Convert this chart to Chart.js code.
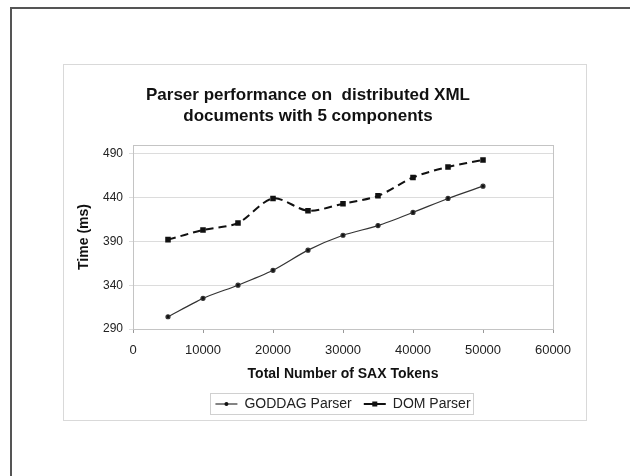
<!DOCTYPE html>
<html>
<head>
<meta charset="utf-8">
<script src="https://cdn.jsdelivr.net/npm/chart.js@4"></script>
<style>
  html, body { margin: 0; padding: 0; background: #fff; }
  #wrap { width: 630px; height: 476px; }
</style>
</head>
<body>
<div id="wrap"><canvas id="lineChart" width="630" height="476"></canvas></div>
<script>
// values
var tokens = [5000, 10000, 15000, 20000, 25000, 30000, 35000, 40000, 45000, 50000];
var goddag = [304, 325, 340, 357, 380, 397, 408, 423, 439, 453];
var dom = [392, 403, 411, 439, 425, 433, 442, 463, 475, 483];
var seriesNames = ['GODDAG Parser', 'DOM Parser'];
var yTicks = [290, 340, 390, 440, 490];
var titleLines = ['Parser performance on  distributed XML', 'documents with 5 components'];

var FONT = '"Liberation Sans", Arial, sans-serif';

function pts(ys) {
    return tokens.map(function (x, i) { return { x: x, y: ys[i] }; });
}

// frames: outer page lines, chart box, plot box, legend box + legend markers
var framePlugin = {
    id: 'frames',
    beforeDraw: function (chart) {
        var c = chart.ctx;
        c.save();
        c.strokeStyle = '#555';
        c.lineWidth = 2;
        c.beginPath();
        c.moveTo(11, 476); c.lineTo(11, 8); c.lineTo(630, 8);
        c.stroke();
        c.strokeStyle = '#d9d9d9';
        c.lineWidth = 1;
        c.strokeRect(63.5, 64.5, 523, 356);
        c.restore();
    },
    afterDraw: function (chart) {
        var c = chart.ctx, a = chart.chartArea;
        c.save();
        c.strokeStyle = '#c4c4c4';
        c.lineWidth = 1;
        c.strokeRect(Math.round(a.left) + 0.5, Math.round(a.top) + 0.5, Math.round(a.right - a.left), Math.round(a.bottom - a.top));

        var boxes = chart.legend.legendHitBoxes;
        if (boxes && boxes.length) {
            var l = boxes[0].left, r = boxes[boxes.length - 1].left + boxes[boxes.length - 1].width;
            var t = boxes[0].top, h = boxes[0].height;
            c.strokeStyle = '#d0d0d0';
            c.strokeRect(Math.round(l) - 4.5, Math.round(t) - 3.5, Math.round(r - l) + 8, Math.round(h) + 7);
            c.fillStyle = '#111';
            boxes.forEach(function (b, i) {
                var cx = b.left + 11, cy = b.top + b.height / 2;
                c.beginPath();
                if (i === 0) { c.arc(cx, cy, 2, 0, Math.PI * 2); c.fill(); }
                else { c.fillRect(cx - 2.5, cy - 2.5, 5, 5); }
            });
        }
        c.restore();
    }
};

var ctx = document.getElementById('lineChart').getContext('2d');
var myChart = new Chart(ctx, {
    type: 'line',
    data: {
        datasets: [{
            label: seriesNames[0],
            data: pts(goddag),
            borderColor: '#333',
            backgroundColor: '#111',
            borderWidth: 1.2,
            pointStyle: 'circle',
            pointRadius: 2,
            tension: 0.25
        }, {
            label: seriesNames[1],
            data: pts(dom),
            borderColor: '#111',
            backgroundColor: '#111',
            borderWidth: 2,
            borderDash: [8, 5],
            pointStyle: 'rect',
            pointRadius: 2.5,
            tension: 0.3
        }]
    },
    plugins: [framePlugin],
    options: {
        responsive: false,
        animation: false,
        layout: { padding: { top: 85, left: 63, right: 77, bottom: 55 } },
        scales: {
            x: {
                type: 'linear',
                min: 0,
                max: 60000,
                afterFit: function (s) { s.height = 56; },
                ticks: {
                    stepSize: 10000, color: '#222', padding: 10, maxRotation: 0,
                    font: { family: FONT, size: 13 },
                    callback: function (v) { return String(v); }
                },
                grid: { display: true, drawOnChartArea: false, color: '#999', tickLength: 4 },
                border: { display: false },
                title: {
                    display: true,
                    text: 'Total Number of SAX Tokens',
                    color: '#111',
                    padding: { top: 0, bottom: 2 },
                    font: { family: FONT, size: 14, weight: 'bold' }
                }
            },
            y: {
                min: 290,
                max: 500,
                afterFit: function (s) { s.width = 70; },
                afterBuildTicks: function (s) { s.ticks = yTicks.map(function (v) { return { value: v }; }); },
                ticks: { color: '#222', padding: 6, font: { family: FONT, size: 12 } },
                grid: { color: '#dcdcdc', tickLength: 4 },
                border: { display: false },
                title: {
                    display: true,
                    text: 'Time (ms)',
                    color: '#111',
                    padding: { top: 13, bottom: 0 },
                    font: { family: FONT, size: 14, weight: 'bold' }
                }
            }
        },
        plugins: {
            title: {
                display: true,
                text: titleLines,
                color: '#111',
                padding: { top: 0, bottom: 18 },
                font: { family: FONT, size: 17, weight: 'bold', lineHeight: '21px' }
            },
            legend: {
                display: true,
                position: 'bottom',
                fullSize: false,
                labels: {
                    usePointStyle: true,
                    pointStyle: 'line',
                    pointStyleWidth: 22,
                    boxWidth: 22,
                    padding: 12,
                    color: '#222',
                    font: { family: FONT, size: 14 }
                }
            },
            tooltip: { enabled: false }
        }
    }
});
</script>
</body>
</html>
